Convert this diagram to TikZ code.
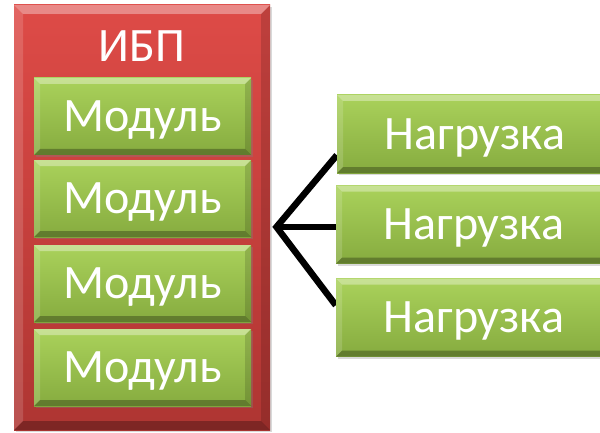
\documentclass[tikz,border=0pt]{standalone}
\usepackage{fontspec}
\setmainfont{Carlito}
\usetikzlibrary{shadows}
\pgfdeclarelayer{background}
\pgfsetlayers{background,main}
\definecolor{redtop}{HTML}{DE4B47}
\definecolor{redbot}{HTML}{AE3532}
\definecolor{grntop}{HTML}{AAD25B}
\definecolor{grnbot}{HTML}{86AB3F}
\tikzset{
  bevel/.style={path picture={
    \fill[white,fill opacity=0.35] (path picture bounding box.north west) -- (path picture bounding box.north east)
      -- ([shift={(-#1pt,-#1pt)}]path picture bounding box.north east) -- ([shift={(#1pt,-#1pt)}]path picture bounding box.north west) -- cycle;
    \fill[white,fill opacity=0.15] (path picture bounding box.north west) -- (path picture bounding box.south west)
      -- ([shift={(#1pt,#1pt)}]path picture bounding box.south west) -- ([shift={(#1pt,-#1pt)}]path picture bounding box.north west) -- cycle;
    \fill[black,fill opacity=0.28] (path picture bounding box.south west) -- (path picture bounding box.south east)
      -- ([shift={(-#1pt,#1pt)}]path picture bounding box.south east) -- ([shift={(#1pt,#1pt)}]path picture bounding box.south west) -- cycle;
    \fill[black,fill opacity=0.14] (path picture bounding box.north east) -- (path picture bounding box.south east)
      -- ([shift={(-#1pt,#1pt)}]path picture bounding box.south east) -- ([shift={(-#1pt,-#1pt)}]path picture bounding box.north east) -- cycle;
  }},
  bigfont/.style={font=\fontsize{48}{52}\selectfont, text=white, text depth=0pt},
  upsbox/.style={rectangle, inner sep=0pt, minimum width=256pt, minimum height=425pt,
    top color=redtop, bottom color=redbot, bevel=9,
    drop shadow={shadow xshift=2pt, shadow yshift=-2pt, opacity=0.3}},
  modbox/.style={rectangle, inner sep=0pt, minimum width=217pt, minimum height=77pt,
    top color=grntop, bottom color=grnbot, bevel=6, bigfont,
    drop shadow={shadow xshift=2pt, shadow yshift=-2pt, opacity=0.35}},
  loadbox/.style={rectangle, inner sep=0pt, minimum width=276pt, minimum height=78pt,
    top color=grntop, bottom color=grnbot, bevel=6, bigfont,
    drop shadow={shadow xshift=2pt, shadow yshift=-2pt, opacity=0.3}},
  wire/.style={line width=6.5pt, black, line join=miter}
}
\begin{document}
\begin{tikzpicture}[x=1pt,y=1pt]
\useasboundingbox (0,0) rectangle (600,432);
\node[upsbox] (ups) at (142,214.5) {};
\node[bigfont, inner sep=0pt] (title) at (142,386) {ИБП};
\node[modbox] (m1) at (142.5,315.5) {Модуль};
\node[modbox] (m2) at (142.5,233.5) {Модуль};
\node[modbox] (m3) at (142.5,148.5) {Модуль};
\node[modbox] (m4) at (142.5,64.5) {Модуль};
\node[loadbox] (l1) at (475,298) {Нагрузка};
\node[loadbox] (l2) at (474,207.5) {Нагрузка};
\node[loadbox] (l3) at (474,114.5) {Нагрузка};
\coordinate (j) at (276.5,205);
\begin{pgfonlayer}{background}
\draw[wire] ([yshift=18pt]l1.south west) -- (j) -- ([yshift=-27pt]l3.north west);
\draw[wire] (j) -- (l2.west |- j);
\end{pgfonlayer}
\end{tikzpicture}
\end{document}
